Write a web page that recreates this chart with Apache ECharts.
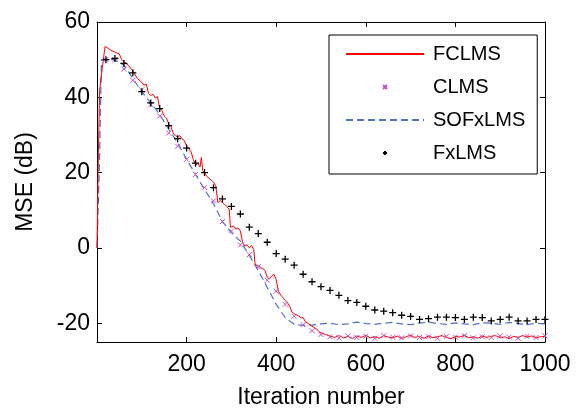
<!DOCTYPE html>
<html>
<head>
<meta charset="utf-8">
<script src="https://cdn.jsdelivr.net/npm/echarts@6/dist/echarts.min.js"></script>
<style>html,body{margin:0;padding:0;background:#fff}#c{width:576px;height:414px}</style>
</head>
<body>
<div id="c"></div>
<script>
// ---- data ----
const xTicks = [200, 400, 600, 800, 1000];
const yTicks = [-20, 0, 20, 40, 60];
const seriesNames = ['FCLMS', 'CLMS', 'SOFxLMS', 'FxLMS'];

const fclms = [
  [0,0],[3,25],[6,42],[12,48],[18,53.5],[25,53],[30,52.5],[40,52],[50,51.5],[55,50],[60,49.5],
  [70,48.5],[80,47],[90,45],[100,44],[105,43.2],[110,43.5],[115,41],[120,40.5],[125,40.8],
  [130,39.8],[135,40.2],[140,37],[145,36.5],[150,35],[155,34.5],[160,33],[165,32.2],[170,30.5],
  [175,29.8],[180,29.5],[185,29.8],[190,29],[195,28.5],[200,27],[205,26.5],[210,25.5],[215,23.5],
  [220,22],[225,22.4],[230,21.5],[233,24],[236,20.5],[240,20.8],[245,19],[250,18.5],[255,18],
  [260,17.5],[265,16.5],[270,12],[275,12.6],[280,12],[285,11.5],[290,11],[295,10.2],[298,5.5],
  [305,5.8],[310,5],[315,5.3],[320,4.5],[325,1.5],[330,0.5],[335,0.8],[340,0],[345,0.6],
  [350,-0.5],[353,-4.5],[360,-4.8],[365,-5.2],[370,-5.5],[375,-6],[380,-7.8],[385,-8.2],
  [390,-7.5],[395,-7],[400,-8.5],[405,-11.5],[410,-12.5],[415,-13.2],[420,-14],[425,-14.5],
  [430,-15.5],[435,-17],[440,-17.5],[445,-17.8],[450,-18],[455,-18.6],[460,-18.5],[465,-19.6],
  [470,-20],[475,-20.4],[480,-20.8],[485,-21.2],[490,-21.5],[495,-22.2],[500,-22.6],
  [510,-23],[520,-23.4],[530,-23.8],[540,-23.3],[550,-23.9],[560,-23.5],
  [570,-24.1],[580,-23.4],[590,-23.8],[600,-23.2],[610,-23.9],[620,-23.6],[630,-24.0],[640,-23.3],
  [650,-23.7],[660,-23.9],[670,-23.4],[680,-24.1],[690,-23.6],[700,-23.2],[710,-23.8],[720,-23.5],
  [730,-24.0],[740,-23.4],[750,-23.9],[760,-23.6],[770,-23.3],[780,-23.8],[790,-24.1],[800,-23.5],
  [810,-23.7],[820,-23.2],[830,-23.9],[840,-23.6],[850,-24.0],[860,-23.4],[870,-23.8],[880,-23.5],
  [890,-23.3],[900,-23.9],[910,-23.6],[920,-24.1],[930,-23.5],[940,-23.8],[950,-23.3],[960,-23.7],
  [970,-23.4],[980,-23.9],[990,-23.6],[1000,-23.5]
];

const clms = [
  [20,50],[40,50],[60,47.5],[80,44.5],[100,42],[120,38],[140,35],[160,30.5],[180,27],[200,23.5],
  [220,19.5],[240,16],[260,12.5],[280,7],[300,4.5],[320,0.8],[340,-1.8],[360,-5],[380,-8.6],
  [400,-11.5],[420,-15],[440,-18.2],[460,-20.4],[480,-22],[500,-23],[520,-23.6],[540,-23.9],
  [560,-23.4],[580,-23.8],[600,-23.5],[620,-24.0],[640,-23.3],[660,-23.7],[680,-23.9],[700,-23.4],
  [720,-23.8],[740,-23.6],[760,-24.0],[780,-23.5],[800,-23.7],[820,-23.3],[840,-23.9],[860,-23.6],
  [880,-23.8],[900,-23.4],[920,-23.7],[940,-24.0],[960,-23.5],[980,-23.8],[1000,-23.4]
];

const sofxlms = [
  [0,0],[5,20],[10,50],[20,50],[40,50],[60,48.5],[80,45],[100,41.5],[120,38.5],[140,35.5],
  [160,31.5],[180,28],[200,23.5],[220,19.5],[240,15.5],[260,11.8],[280,7],[300,4],[320,1.8],
  [340,-2],[360,-6],[380,-10.5],[400,-15],[420,-18.5],[440,-20.3],[460,-20.6],[480,-20.5],
  [500,-20.2],[520,-20.0],[540,-20.4],[560,-20.2],[580,-19.7],[600,-20.1],[620,-20.3],[640,-20.0],
  [660,-19.8],[680,-20.2],[700,-20.4],[720,-20.0],[740,-19.7],[760,-20.1],[780,-20.3],[800,-19.9],
  [820,-20.2],[840,-20.4],[860,-19.9],[880,-20.0],[900,-20.3],[920,-19.8],[940,-20.1],[960,-20.4],
  [980,-20.0],[1000,-20.2]
];

const fxlms = [
  [20,50],[40,50.3],[60,49],[80,46.5],[100,41.5],[120,38.5],[140,37],[160,32.5],[180,29],[200,26.5],
  [220,22.5],[240,20],[260,16],[280,13],[300,11],[320,9],[340,5.5],[360,3.8],[380,1.5],[400,-1.5],
  [420,-3],[440,-4.6],[460,-7],[480,-9],[500,-10.3],[520,-11.3],[540,-12.6],[560,-14],[580,-14.5],
  [600,-15.5],[620,-16.5],[640,-16.8],[660,-17.2],[680,-17.9],[700,-18.2],[720,-19],[740,-18.8],
  [760,-18.4],[780,-18.4],[800,-18.5],[820,-19],[840,-18.4],[860,-18.5],[880,-19.4],[900,-19],
  [920,-18.4],[940,-19.4],[960,-19.4],[980,-19],[1000,-19]
];

// ---- chart ----
const FONT = "'Liberation Sans', Arial, Helvetica, sans-serif";
const plusPath = 'path://M0,5L10,5M5,0L5,10';
const crossPath = 'path://M0,0L10,10M10,0L0,10';

const chart = echarts.init(document.getElementById('c'), null, {renderer: 'canvas'});
const axisLine = {show: true, onZero: false, lineStyle: {color: '#000', width: 1}};
const plain = v => String(v);
chart.setOption({
  animation: false,
  backgroundColor: '#fff',
  textStyle: {fontFamily: FONT},
  grid: {left: 97, right: 31, top: 22, bottom: 72, containLabel: false},
  legend: {
    orient: 'vertical', left: 329, top: 35,
    data: [
      {name: seriesNames[0], itemStyle: {opacity: 0}},
      {name: seriesNames[1]},
      {name: seriesNames[2], itemStyle: {opacity: 0}},
      {name: seriesNames[3]}
    ],
    backgroundColor: '#fff', borderColor: '#000', borderWidth: 1,
    padding: [9, 12, 11, 16], itemGap: 13, itemWidth: 78, itemHeight: 5,
    textStyle: {fontSize: 20, color: '#000', fontFamily: FONT, padding: [0, 0, 0, 4]}
  },
  xAxis: [{
    type: 'value', min: 0, max: 1000, interval: 200,
    name: 'Iteration number', nameLocation: 'middle', nameGap: 44,
    nameTextStyle: {fontSize: 23, color: '#000', fontFamily: FONT},
    axisLine: axisLine,
    axisTick: {inside: true, length: 5, lineStyle: {color: '#000'}},
    axisLabel: {fontSize: 23, color: '#000', margin: 11, showMinLabel: false, fontFamily: FONT,
                formatter: plain},
    splitLine: {show: false}
  }, {
    type: 'value', position: 'top', min: 0, max: 1000, interval: 200,
    axisLine: axisLine,
    axisTick: {inside: true, length: 5, lineStyle: {color: '#000'}},
    axisLabel: {show: false}, splitLine: {show: false}
  }],
  yAxis: [{
    type: 'value', min: -25, max: 60,
    name: 'MSE (dB)', nameLocation: 'middle', nameGap: 60,
    nameTextStyle: {fontSize: 23, color: '#000', fontFamily: FONT},
    axisLine: axisLine,
    axisTick: {inside: true, length: 5, lineStyle: {color: '#000'}, customValues: yTicks},
    axisLabel: {fontSize: 23, color: '#000', margin: 7, fontFamily: FONT, customValues: yTicks,
                formatter: plain},
    splitLine: {show: false}
  }, {
    type: 'value', position: 'right', min: -25, max: 60,
    axisLine: axisLine,
    axisTick: {inside: true, length: 5, lineStyle: {color: '#000'}, customValues: yTicks},
    axisLabel: {show: false, customValues: yTicks}, splitLine: {show: false}
  }],
  series: [
    {
      name: 'SOFxLMS', type: 'line', data: sofxlms, symbol: 'none', z: 2,
      lineStyle: {color: '#4f72c6', width: 1.2, type: [7, 4]},
      itemStyle: {color: '#4f72c6'}
    },
    {
      name: 'FCLMS', type: 'line', data: fclms, symbol: 'none', z: 3,
      lineStyle: {color: '#ff0000', width: 1},
      itemStyle: {color: '#ff0000'}
    },
    {
      name: 'CLMS', type: 'line', data: clms, symbol: crossPath, symbolSize: 5, z: 4,
      lineStyle: {width: 0, opacity: 0},
      itemStyle: {color: 'none', borderColor: '#bf4fbf', borderWidth: 1}
    },
    {
      name: 'FxLMS', type: 'line', data: fxlms, symbol: plusPath, symbolSize: 7, z: 5,
      lineStyle: {width: 0, opacity: 0},
      itemStyle: {color: 'none', borderColor: '#000', borderWidth: 1.3}
    }
  ]
});
</script>
</body>
</html>
